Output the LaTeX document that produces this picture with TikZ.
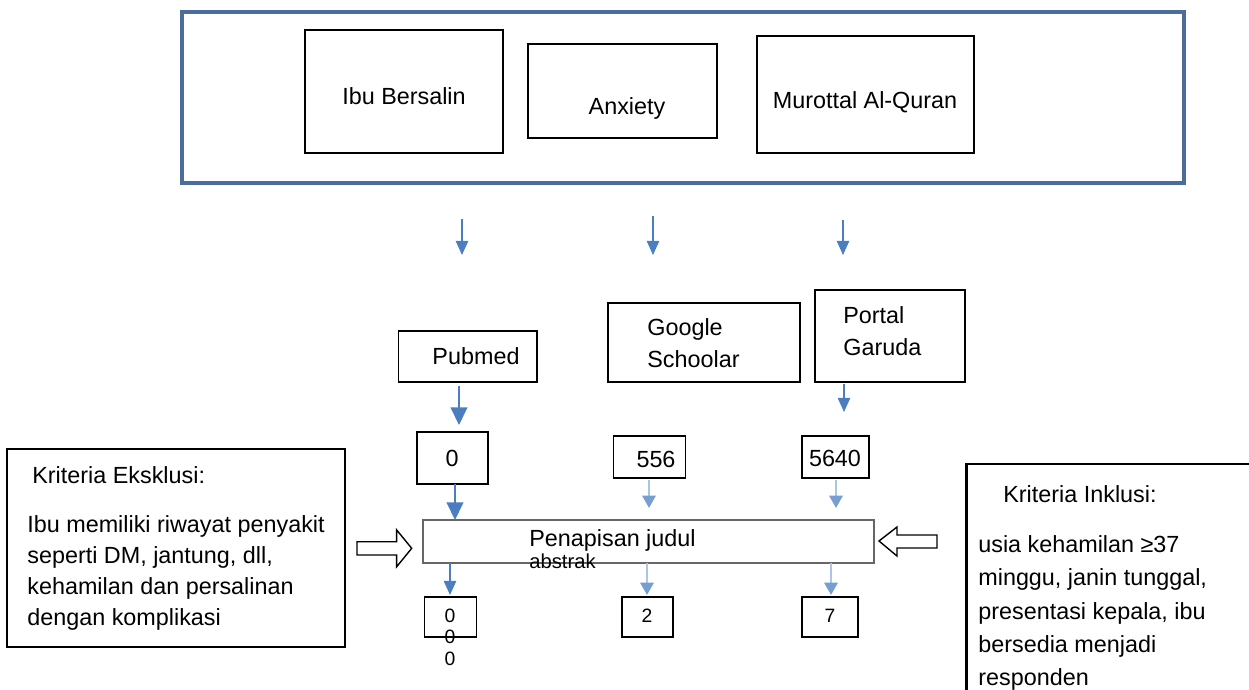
\documentclass[tikz,border=0pt]{standalone}
\usepackage{fontspec}
\setmainfont{Liberation Sans}
\usetikzlibrary{arrows.meta}
\definecolor{frameblue}{HTML}{4A6D9C}
\definecolor{arrblue}{HTML}{4A7EC0}
\definecolor{paleblue}{HTML}{A9C6E8}

\tikzset{
  box/.style={draw, line width=0.8pt, inner sep=0pt},
  boldbox/.style={draw, line width=1.1pt, inner sep=0pt},
  txt/.style={inner sep=0pt, font=\fontsize{13.3}{17}\selectfont},
  smalltxt/.style={inner sep=0pt, font=\fontsize{11}{13}\selectfont},
  down/.style={draw=arrblue, line width=0.9pt, -{Triangle[length=8pt,width=7pt]}},
  bigdown/.style={draw=arrblue, line width=0.9pt, -{Triangle[length=10pt,width=9.5pt]}},
  fadedown/.style={draw=paleblue, line width=1.4pt, -{Triangle[length=7pt,width=7.5pt,color=arrblue!75]}}
}

\begin{document}
\begin{tikzpicture}[x=0.02cm, y=-0.02cm]
      \useasboundingbox (0,0) rectangle (1249,690);

      % Keyword frame
      \node[draw=frameblue, line width=2.3pt, minimum width=20.04cm, minimum height=3.42cm] (frame) at (683,97.5) {};
      \node[box, minimum width=3.96cm, minimum height=2.46cm] (ibu) at (404,91.5) {};
      \node[box, minimum width=3.78cm, minimum height=1.88cm] (anx) at (622.5,91) {};
      \node[box, minimum width=4.34cm, minimum height=2.34cm] (mur) at (865.5,94.5) {};
      \node[txt] (ibutxt) at (404,96) {Ibu Bersalin};
      \node[txt] (anxtxt) at (627,108) {Anxiety};
      \node[txt] (murtxt) at (865,102) {Murottal Al-Quran};

      % Arrows under the frame
      \coordinate (k1) at (462,219); \coordinate (k1e) at (462,255);
      \coordinate (k2) at (653,216); \coordinate (k2e) at (653,255);
      \coordinate (k3) at (843,220); \coordinate (k3e) at (843,255);
      \draw[down] (k1) -- (k1e);
      \draw[down] (k2) -- (k2e);
      \draw[down] (k3) -- (k3e);

      % Databases
      \node[boldbox, minimum width=2.77cm, minimum height=1.03cm] (pub) at (467.75,356.35) {};
      \node[boldbox, minimum width=3.84cm, minimum height=1.58cm] (goo) at (704,342.5) {};
      \node[boldbox, minimum width=3.0cm, minimum height=1.84cm] (por) at (890,336) {};
      \node[txt] (pubtxt) at (476,356) {Pubmed};
      \node[txt, anchor=west, align=left] (gootxt) at (647,343) {Google\\[1pt]Schoolar};
      \node[txt, anchor=west, align=left] (portxt) at (843,331) {Portal\\[1pt]Garuda};

      % Hits per database
      \node[boldbox, minimum width=1.42cm, minimum height=1.04cm] (n0) at (452.5,458) {};
      \node[box, minimum width=1.45cm, minimum height=0.84cm] (n556) at (649.5,457) {};
      \node[box, minimum width=1.34cm, minimum height=0.84cm] (n5640) at (835.5,457) {};
      \node[txt] (n0txt) at (452,458) {0};
      \node[txt] (n556txt) at (656,459) {556};
      \node[txt] (n5640txt) at (835,458) {5640};

      \coordinate (p1) at (459,386); \coordinate (p1e) at (459,425);
      \coordinate (p3) at (844,384); \coordinate (p3e) at (844,412);
      \draw[bigdown] (p1) -- (p1e);
      \draw[down] (p3) -- (p3e);

      % Screening
      \node[draw=black!60, line width=1.3pt, inner sep=0pt, minimum width=9.02cm, minimum height=0.85cm] (pen) at (648.5,541.5) {};
      \node[txt, anchor=west] (pentxt) at (529,540) {Penapisan judul};
      \node[inner sep=0pt, font=\fontsize{11.5}{13}\selectfont, anchor=west] (abstxt) at (529,561) {abstrak};

      \coordinate (s1) at (455,484); \coordinate (s1e) at (455,520);
      \coordinate (s2) at (649,480); \coordinate (s2e) at (649,508);
      \coordinate (s3) at (836,480); \coordinate (s3e) at (836,508);
      \draw[bigdown] (s1) -- (s1e);
      \draw[fadedown] (s2) -- (s2e);
      \draw[fadedown] (s3) -- (s3e);

      \coordinate (t1) at (450,563); \coordinate (t1e) at (450,595);
      \coordinate (t2) at (647,563); \coordinate (t2e) at (647,595);
      \coordinate (t3) at (831,563); \coordinate (t3e) at (831,595);
      \draw[down] (t1) -- (t1e);
      \draw[fadedown] (t2) -- (t2e);
      \draw[fadedown] (t3) -- (t3e);

      % Results
      \node[box, minimum width=1.04cm, minimum height=0.80cm] (r0) at (450.7,617) {};
      \node[box, minimum width=1.02cm, minimum height=0.80cm] (r2) at (647.5,617) {};
      \node[box, minimum width=1.12cm, minimum height=0.80cm] (r7) at (830,617) {};
      \node[smalltxt] (r0a) at (450,616) {0};
      \node[smalltxt] (r0b) at (450,637) {0};
      \node[smalltxt] (r0c) at (450,659) {0};
      \node[smalltxt] (r2txt) at (647,616) {2};
      \node[smalltxt] (r7txt) at (830,616) {7};

      % Exclusion criteria
      \node[box, minimum width=6.76cm, minimum height=3.96cm] (eks) at (176,548) {};
      \node[txt, anchor=west] (ekstitle) at (32,475) {Kriteria Eksklusi:};
      \node[txt, anchor=north west, align=left, font=\fontsize{13.3}{17.7}\selectfont] (ekstxt) at (27,515)
        {Ibu memiliki riwayat penyakit\\seperti DM, jantung, dll,\\kehamilan dan persalinan\\dengan komplikasi};
      \draw[line width=0.8pt] (357,541.7) -- (396.7,541.7) -- (396.7,530) -- (411.7,548.3)
        -- (396.7,566.7) -- (396.7,555) -- (357,555) -- cycle;

      % Inclusion criteria
      \node[box, minimum width=5.7cm, minimum height=5.12cm] (ink) at (1109.5,592) {};
      \draw[line width=1.4pt] (ink.north west) -- (ink.south west);
      \node[txt, anchor=west] (inktitle) at (1003,494) {Kriteria Inklusi:};
      \node[txt, anchor=north west, align=left, font=\fontsize{13.3}{19}\selectfont] (inktxt) at (978,535)
        {usia kehamilan ≥37\\minggu, janin tunggal,\\presentasi kepala, ibu\\bersedia menjadi\\responden};
      \draw[line width=0.8pt] (879,541) -- (897,527) -- (897,535) -- (937,535) -- (937,548)
        -- (897,548) -- (897,556) -- cycle;
\end{tikzpicture}
\end{document}
